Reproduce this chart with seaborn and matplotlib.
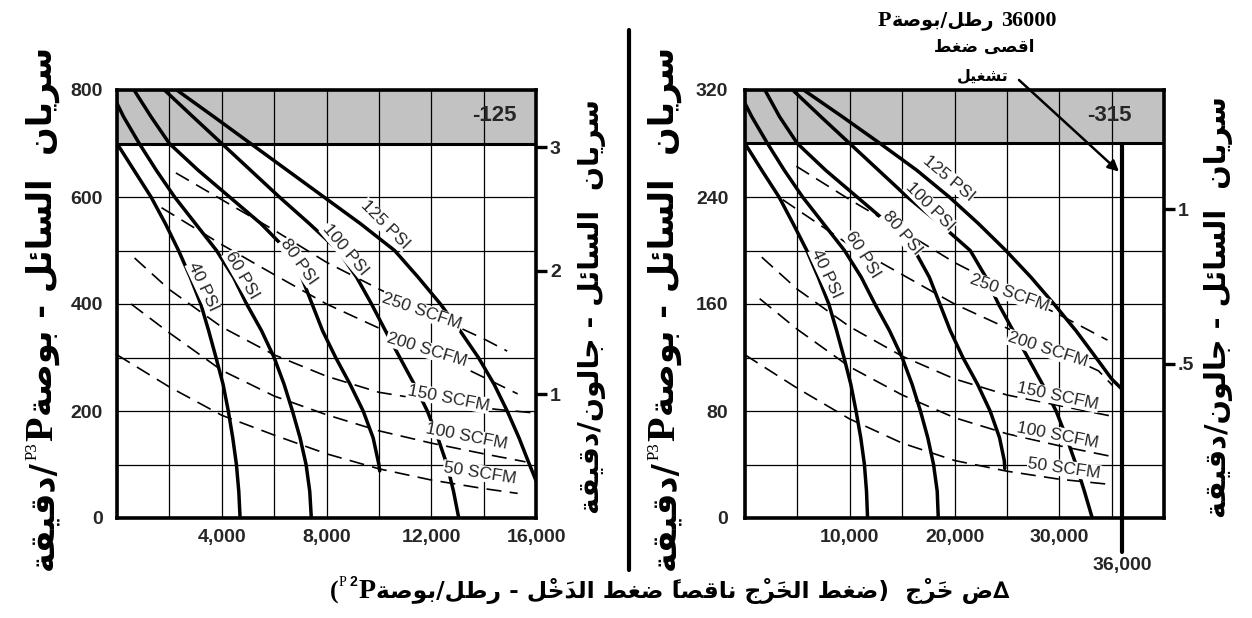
import matplotlib
matplotlib.use("Agg")
import matplotlib.pyplot as plt
from matplotlib.lines import Line2D
from matplotlib.transforms import blended_transform_factory
import seaborn as sns

sns.set_theme(style="white")
plt.rcParams["font.family"] = ["Liberation Sans", "DejaVu Sans"]
plt.rcParams["axes.unicode_minus"] = False

# ------------------------------------------------------------------
# Data: liquid flow (cubic inches / min) against pressure rise (psi)
# ------------------------------------------------------------------
CU_IN_PER_GAL = 231.0

# model -125 (left chart)
L_MODEL = "-125"
L_XMAX, L_YMAX = 16000, 800
L_BAND_LOW = 700
L_XTICKS = [4000, 8000, 12000, 16000]
L_XTICK_LABELS = ["4,000", "8,000", "12,000", "16,000"]
L_YTICKS = [0, 200, 400, 600, 800]
L_GAL_TICKS = [1, 2, 3]
L_GAL_LABELS = ["1", "2", "3"]

L_40_DP = [0, 650, 1300, 1850, 2350, 2800, 3200, 3500, 3780, 4050, 4250, 4420, 4560, 4650, 4700]
L_40_Q = [700, 650, 600, 550, 500, 450, 400, 350, 300, 250, 200, 150, 100, 50, 0]
L_60_DP = [0, 250, 850, 1500, 2200, 3000, 3800, 4450, 4950, 5520, 6000, 6380, 6700, 6990, 7220, 7360, 7420]
L_60_Q = [775, 750, 700, 650, 600, 550, 500, 450, 400, 350, 300, 250, 200, 150, 100, 50, 0]
L_80_DP = [650, 1300, 2000, 3100, 4300, 5500, 6500, 7050, 7450, 7850, 8350, 8900, 9400, 9780, 10000, 10030]
L_80_Q = [800, 750, 700, 650, 600, 550, 500, 450, 400, 350, 300, 250, 200, 150, 100, 88]
L_100_DP = [1810, 2900, 4000, 5100, 6200, 7350, 8450, 9150, 9720, 10250, 10800, 11350, 11850, 12250, 12600, 12850, 13050]
L_100_Q = [800, 750, 700, 650, 600, 550, 500, 450, 400, 350, 300, 250, 200, 150, 100, 50, 0]
L_125_DP = [2280, 3700, 5100, 6500, 7900, 9300, 10600, 11500, 12350, 13100, 13800, 14400, 14900, 15350, 15750, 16000]
L_125_Q = [800, 750, 700, 650, 600, 550, 500, 450, 400, 350, 300, 250, 200, 150, 100, 70]

L_250S_DP = [2250, 4000, 6000, 8000, 10000, 12000, 14000, 14900]
L_250S_Q = [645, 595, 538, 478, 428, 380, 335, 312]
L_200S_DP = [1700, 4000, 6000, 8000, 10000, 11750, 13500, 15300]
L_200S_Q = [580, 511, 455, 400, 355, 316, 275, 232]
L_150S_DP = [670, 2000, 4000, 6000, 8000, 10000, 12500, 14500, 15800]
L_150S_Q = [486, 427, 357, 305, 265, 235, 215, 203, 197]
L_100S_DP = [540, 2000, 4000, 6000, 8000, 10000, 12000, 14000, 15600]
L_100S_Q = [400, 346, 276, 228, 193, 163, 140, 120, 105]
L_50S_DP = [0, 2000, 4000, 6000, 8000, 10000, 12000, 14000, 15300]
L_50S_Q = [305, 245, 192, 155, 120, 92, 71, 55, 46]

# model -315 (right chart)
R_MODEL = "-315"
R_XMAX, R_YMAX = 40000, 320
R_BAND_LOW = 280
R_MAX_DP = 36000
R_MAX_DP_LABEL = "36,000"
R_XTICKS = [10000, 20000, 30000]
R_XTICK_LABELS = ["10,000", "20,000", "30,000"]
R_YTICKS = [0, 80, 160, 240, 320]
R_GAL_TICKS = [0.5, 1]
R_GAL_LABELS = [".5", "1"]

R_40_DP = [0, 1600, 3250, 4600, 5900, 7000, 8000, 8750, 9450, 10100, 10600, 11050, 11400, 11600, 11700]
R_40_Q = [280, 260, 240, 220, 200, 180, 160, 140, 120, 100, 80, 60, 40, 20, 0]
R_60_DP = [0, 650, 2150, 3750, 5500, 7500, 9500, 11100, 12400, 13800, 15000, 15950, 16750, 17450, 18000, 18350, 18450]
R_60_Q = [310, 300, 280, 260, 240, 220, 200, 180, 160, 140, 120, 100, 80, 60, 40, 20, 0]
R_80_DP = [1900, 3300, 5000, 7700, 10700, 13700, 16200, 17600, 18600, 19600, 20800, 22200, 23400, 24300, 24750, 24800]
R_80_Q = [320, 300, 280, 260, 240, 220, 200, 180, 160, 140, 120, 100, 80, 60, 43, 37]
R_100_DP = [4550, 7250, 10000, 12750, 15500, 18600, 21500, 23000, 24200, 25600, 27000, 28400, 29700, 30700, 31600, 32400, 33150]
R_100_Q = [320, 300, 280, 260, 240, 220, 200, 180, 160, 140, 120, 100, 80, 60, 40, 20, 0]
R_125_DP = [5600, 9300, 12900, 16400, 19500, 22300, 24900, 27300, 29500, 31600, 33500, 35000, 35900]
R_125_Q = [320, 300, 280, 260, 240, 220, 200, 180, 160, 140, 120, 104, 97]

R_250S_DP = [4900, 10000, 15000, 20000, 25000, 30000, 34600]
R_250S_Q = [263, 238, 215, 191, 171, 152, 133]
R_200S_DP = [3600, 10000, 15000, 20000, 25000, 29400, 33750, 35100]
R_200S_Q = [238, 204, 182, 160, 142, 126, 110, 99]
R_150S_DP = [1600, 5000, 10000, 15000, 20000, 25000, 30000, 35100]
R_150S_Q = [195, 171, 143, 121, 104, 92, 84, 76]
R_100S_DP = [1400, 5000, 10000, 15000, 20000, 25000, 30000, 35000]
R_100S_Q = [164, 141, 113, 92, 75, 63, 54, 46]
R_50S_DP = [0, 5000, 10000, 15000, 20000, 25000, 30000, 35000]
R_50S_Q = [122, 97, 74, 56, 43, 35, 29, 25]

PSI_NAMES = ["40 PSI", "60 PSI", "80 PSI", "100 PSI", "125 PSI"]
SCFM_NAMES = ["250 SCFM", "200 SCFM", "150 SCFM", "100 SCFM", "50 SCFM"]

# Arabic texts (logical order)
FLOW_CUIN_AR = "سريان  السائل - بوصة"
PER_MIN_AR = "/دقيقة"
FLOW_GAL_AR = "سريان  السائل - جالون/دقيقة"
XLABEL_AR = "∆ض خَرْج  (ضغط الخَرْج ناقصاً ضغط الدَخْل - رطل/بوصة"
PSI_UNIT_AR = "رطل/بوصة"
MAX_P_AR = "اقصى ضغط"
OPER_AR = "تشغيل"
MAX_P_VALUE = "36000"

# ------------------------------------------------------------------
# Arabic shaping: presentation forms (isolated, final, initial, medial)
# ------------------------------------------------------------------
AR_FORMS = {
    "\u0627": ("\uFE8D", "\uFE8E", None, None),
    "\u0628": ("\uFE8F", "\uFE90", "\uFE91", "\uFE92"),
    "\u0629": ("\uFE93", "\uFE94", None, None),
    "\u062A": ("\uFE95", "\uFE96", "\uFE97", "\uFE98"),
    "\u062C": ("\uFE9D", "\uFE9E", "\uFE9F", "\uFEA0"),
    "\u062E": ("\uFEA5", "\uFEA6", "\uFEA7", "\uFEA8"),
    "\u062F": ("\uFEA9", "\uFEAA", None, None),
    "\u0631": ("\uFEAD", "\uFEAE", None, None),
    "\u0633": ("\uFEB1", "\uFEB2", "\uFEB3", "\uFEB4"),
    "\u0634": ("\uFEB5", "\uFEB6", "\uFEB7", "\uFEB8"),
    "\u0635": ("\uFEB9", "\uFEBA", "\uFEBB", "\uFEBC"),
    "\u0636": ("\uFEBD", "\uFEBE", "\uFEBF", "\uFEC0"),
    "\u0637": ("\uFEC1", "\uFEC2", "\uFEC3", "\uFEC4"),
    "\u063A": ("\uFECD", "\uFECE", "\uFECF", "\uFED0"),
    "\u0642": ("\uFED5", "\uFED6", "\uFED7", "\uFED8"),
    "\u0644": ("\uFEDD", "\uFEDE", "\uFEDF", "\uFEE0"),
    "\u0646": ("\uFEE5", "\uFEE6", "\uFEE7", "\uFEE8"),
    "\u0648": ("\uFEED", "\uFEEE", None, None),
    "\u0649": ("\uFEEF", "\uFEF0", None, None),
    "\u064A": ("\uFEF1", "\uFEF2", "\uFEF3", "\uFEF4"),
    "\u0626": ("\uFE89", "\uFE8A", "\uFE8B", "\uFE8C"),
}
HARAKAT = "\u064B\u064E\u0652"
MIRROR = {"(": ")", ")": "("}


def shape_rtl(text):
    """Join Arabic letters and return the glyphs in left-to-right display order."""
    chars = list(text)
    n = len(chars)

    def neighbour(i, step):
        j = i + step
        while 0 <= j < n and chars[j] in HARAKAT:
            j += step
        return chars[j] if 0 <= j < n else None

    glyphs = []
    for i, c in enumerate(chars):
        forms = AR_FORMS.get(c)
        if forms is None:
            glyphs.append(MIRROR.get(c, c))
            continue
        prev, nxt = neighbour(i, -1), neighbour(i, 1)
        joins_prev = prev in AR_FORMS and AR_FORMS[prev][2] is not None
        joins_next = forms[2] is not None and nxt in AR_FORMS
        idx = {(False, False): 0, (True, False): 1,
               (False, True): 2, (True, True): 3}[(joins_prev, joins_next)]
        glyphs.append(forms[idx])
    # zero-width marks are drawn from the pen position of their letter,
    # so each one goes just before its letter in display order
    clusters = []
    for g in glyphs:
        if g in HARAKAT and clusters:
            clusters[-1] = g + clusters[-1]
        else:
            clusters.append(g)
    return "".join(reversed(clusters))


# ------------------------------------------------------------------
# Figure
# ------------------------------------------------------------------
W, H = 1252, 618
fig = plt.figure(figsize=(W / 100, H / 100), dpi=100)
fig.patch.set_facecolor("white")

AX_W, AX_H = 419 / W, 428 / H
ax_l = fig.add_axes([117 / W, 1 - 518 / H, AX_W, AX_H])
ax_r = fig.add_axes([745 / W, 1 - 518 / H, AX_W, AX_H])

TICK_FONT = dict(fontsize=14, fontweight="bold", family="Liberation Sans")
CURVE_FONT = dict(fontsize=12.5, family="Liberation Sans")
LABEL_BOX = dict(boxstyle="square,pad=0.04", fc="white", ec="none")


def setup_axes(ax, xmax, ymax, xgrid, ygrid, band_low, xticks, xlabels, yticks, ypad):
    ax.set_xlim(0, xmax)
    ax.set_ylim(0, ymax)
    ax.set_facecolor("white")
    ax.axhspan(band_low, ymax, color="#c2c2c2", zorder=0.2, lw=0)
    ax.set_xticks(xticks)
    ax.set_xticklabels(xlabels, **TICK_FONT)
    ax.set_xticks(list(range(0, xmax + 1, xgrid)), minor=True)
    ax.set_yticks(yticks)
    ax.set_yticklabels([str(v) for v in yticks], **TICK_FONT)
    ax.set_yticks(list(range(0, ymax + 1, ygrid)), minor=True)
    ax.set_axisbelow(True)
    ax.grid(which="both", color="black", lw=0.9)
    ax.tick_params(which="both", length=0)
    ax.tick_params(axis="y", pad=ypad)
    ax.tick_params(axis="x", pad=8)
    ax.axhline(band_low, color="black", lw=2.2, zorder=2)
    for s in ax.spines.values():
        s.set_visible(True)
        s.set_color("black")
        s.set_linewidth(2.6)
        s.set_zorder(6)
    ax.set_xlabel("")
    ax.set_ylabel("")


def add_gallon_axis(ax, ticks, labels):
    sec = ax.secondary_yaxis("right", functions=(lambda q: q / CU_IN_PER_GAL,
                                                 lambda g: g * CU_IN_PER_GAL))
    sec.set_yticks(ticks)
    sec.set_yticklabels(labels, **TICK_FONT)
    sec.tick_params(direction="out", length=8, width=2.4, pad=2, color="black")
    sec.spines["right"].set_visible(False)
    return sec


def draw_curves(ax, solid, dashed):
    for dp, q in solid:
        sns.lineplot(x=dp, y=q, ax=ax, sort=False, estimator=None,
                     color="black", linewidth=2.5, zorder=3)
    for dp, q in dashed:
        sns.lineplot(x=dp, y=q, ax=ax, sort=False, estimator=None,
                     color="black", linewidth=1.2, linestyle=(0, (9, 5)), zorder=3)


def label_curves(ax, placements):
    for name, (x, y, rot) in placements.items():
        ax.text(x, y, name, rotation=rot, rotation_mode="anchor", ha="center",
                va="center", bbox=LABEL_BOX, zorder=5, **CURVE_FONT)


# ---- left chart ----
setup_axes(ax_l, L_XMAX, L_YMAX, 2000, 100, L_BAND_LOW, L_XTICKS, L_XTICK_LABELS, L_YTICKS, 10)
draw_curves(ax_l,
            [(L_40_DP, L_40_Q), (L_60_DP, L_60_Q), (L_80_DP, L_80_Q),
             (L_100_DP, L_100_Q), (L_125_DP, L_125_Q)],
            [(L_250S_DP, L_250S_Q), (L_200S_DP, L_200S_Q), (L_150S_DP, L_150S_Q),
             (L_100S_DP, L_100S_Q), (L_50S_DP, L_50S_Q)])
label_curves(ax_l, {
    PSI_NAMES[0]: (3296, 432, -65), PSI_NAMES[1]: (4762, 454, -60),
    PSI_NAMES[2]: (6924, 479, -55), PSI_NAMES[3]: (8706, 501, -50),
    PSI_NAMES[4]: (10234, 548, -45),
    SCFM_NAMES[0]: (11635, 386, -19), SCFM_NAMES[1]: (11826, 314, -17),
    SCFM_NAMES[2]: (12652, 224, -11), SCFM_NAMES[3]: (13353, 152, -11),
    SCFM_NAMES[4]: (13862, 84, -9),
})
ax_l.text(0.90, 0.9415, L_MODEL, transform=ax_l.transAxes, ha="center", va="center",
          fontsize=16, fontweight="bold", zorder=6)
add_gallon_axis(ax_l, L_GAL_TICKS, L_GAL_LABELS)

# ---- right chart ----
setup_axes(ax_r, R_XMAX, R_YMAX, 5000, 40, R_BAND_LOW, R_XTICKS, R_XTICK_LABELS, R_YTICKS, 12)
draw_curves(ax_r,
            [(R_40_DP, R_40_Q), (R_60_DP, R_60_Q), (R_80_DP, R_80_Q),
             (R_100_DP, R_100_Q), (R_125_DP, R_125_Q)],
            [(R_250S_DP, R_250S_Q), (R_200S_DP, R_200S_Q), (R_150S_DP, R_150S_Q),
             (R_100S_DP, R_100S_Q), (R_50S_DP, R_50S_Q)])
label_curves(ax_r, {
    PSI_NAMES[0]: (7740, 183, -65), PSI_NAMES[1]: (11210, 197, -58),
    PSI_NAMES[2]: (15000, 213, -50), PSI_NAMES[3]: (17690, 233, -45),
    PSI_NAMES[4]: (19424, 254, -40),
    SCFM_NAMES[0]: (25270, 168, -20), SCFM_NAMES[1]: (28900, 126, -18),
    SCFM_NAMES[2]: (29850, 91, -12), SCFM_NAMES[3]: (29850, 62, -11),
    SCFM_NAMES[4]: (30480, 37, -8),
})
ax_r.text(0.87, 0.9415, R_MODEL, transform=ax_r.transAxes, ha="center", va="center",
          fontsize=16, fontweight="bold", zorder=6)
add_gallon_axis(ax_r, R_GAL_TICKS, R_GAL_LABELS)

# maximum operating pressure line
ax_r.axvline(R_MAX_DP, ymin=-34 / 428, ymax=R_BAND_LOW / R_YMAX, color="black",
             lw=3, clip_on=False, zorder=4)
ax_r.text(R_MAX_DP, -0.112, R_MAX_DP_LABEL,
          transform=blended_transform_factory(ax_r.transData, ax_r.transAxes),
          ha="center", va="center", **TICK_FONT)
ax_r.annotate("", xy=(35700, 259), xycoords="data",
              xytext=(1019 / W, 1 - 80 / H), textcoords="figure fraction",
              arrowprops=dict(arrowstyle="-|>", lw=1.8, color="black",
                              mutation_scale=16, shrinkA=0, shrinkB=0),
              annotation_clip=False, zorder=7)

# separator between the two charts
fig.add_artist(Line2D([629 / W, 629 / W], [1 - 30 / H, 1 - 570 / H],
                      transform=fig.transFigure, color="black", lw=3))

# ------------------------------------------------------------------
# Rich text (mixed Arabic / Latin runs)
# ------------------------------------------------------------------
AR_FONT = "DejaVu Sans"
SERIF = "Liberation Serif"


def rich_text(runs, cx, cy, length, rotation=0, drop=0.3):
    renderer = fig.canvas.get_renderer()
    widths = []
    for r in runs:
        t = fig.text(0, 0, r["text"], fontsize=r["size"], family=r["family"],
                     weight=r.get("weight", "bold"))
        widths.append(t.get_window_extent(renderer).width)
        t.remove()
    gaps = [r.get("gap", 0.0) * r["size"] * fig.dpi / 72 for r in runs]
    k = length / (sum(widths) + sum(gaps))
    ref_px = max(r["size"] for r in runs) * k * fig.dpi / 72
    pos = -length / 2
    for r, w, g in zip(runs, widths, gaps):
        size = r["size"] * k
        pos += g * k
        rise = r.get("rise", 0.0) * size * fig.dpi / 72
        if rotation == 0:
            x, y = cx + pos, cy + drop * ref_px - rise
        else:
            x, y = cx + drop * ref_px - rise, cy - pos
        fig.text(x / W, 1 - y / H, r["text"], fontsize=size, family=r["family"],
                 weight=r.get("weight", "bold"), rotation=rotation,
                 rotation_mode="anchor", ha="left", va="baseline", color="black")
        pos += w * k


def flow_cuin_runs():
    return [
        dict(text=shape_rtl(PER_MIN_AR), family=AR_FONT, size=20),
        dict(text="P3", family=SERIF, size=10, weight="normal", rise=0.9),
        dict(text="P", family=SERIF, size=24, gap=0.05),
        dict(text=shape_rtl(FLOW_CUIN_AR), family=AR_FONT, size=20),
    ]


rich_text(flow_cuin_runs(), 40, 309, 522, rotation=90)
rich_text(flow_cuin_runs(), 662, 309, 522, rotation=90)
rich_text([dict(text=shape_rtl(FLOW_GAL_AR), family=AR_FONT, size=20)], 590, 307, 414, rotation=90)
rich_text([dict(text=shape_rtl(FLOW_GAL_AR), family=AR_FONT, size=20)], 1217, 307, 422, rotation=90)

rich_text([
    dict(text="(", family=SERIF, size=22),
    dict(text="P", family=SERIF, size=12, weight="normal", rise=0.9),
    dict(text="2", family="Liberation Sans", size=12, rise=0.9, gap=0.25),
    dict(text="P", family=SERIF, size=24, gap=0.05),
    dict(text=shape_rtl(XLABEL_AR), family=AR_FONT, size=20),
], 670, 590, 680)

rich_text([
    dict(text="P", family=SERIF, size=15),
    dict(text=shape_rtl(PSI_UNIT_AR), family=AR_FONT, size=13),
    dict(text=MAX_P_VALUE, family=SERIF, size=15, gap=0.3),
], 967, 19, 178)
rich_text([dict(text=shape_rtl(MAX_P_AR), family=AR_FONT, size=12)], 984, 47, 100)
rich_text([dict(text=shape_rtl(OPER_AR), family=AR_FONT, size=12)], 983, 75, 52)

fig.savefig("out.png", dpi=100, facecolor="white")
